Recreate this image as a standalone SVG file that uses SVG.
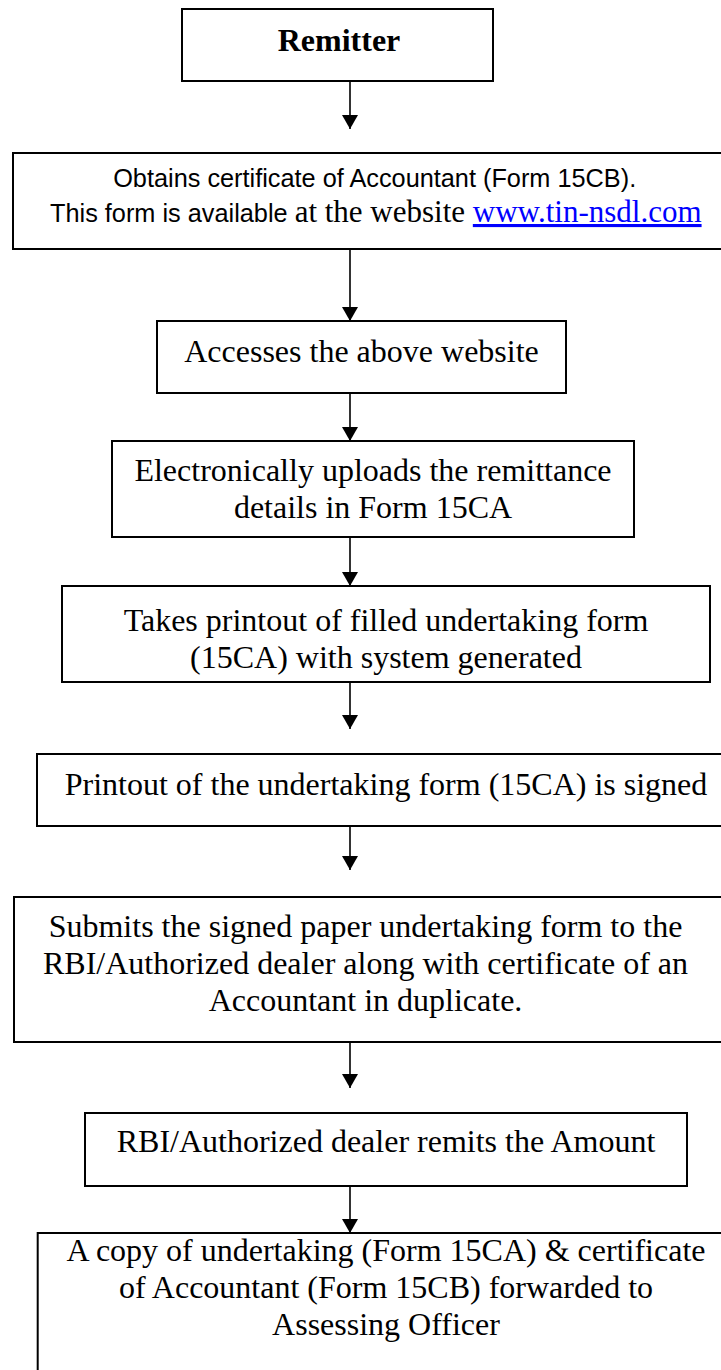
<svg xmlns="http://www.w3.org/2000/svg" width="721" height="1370" viewBox="0 0 721 1370">
<style>
.box{fill:#fff;stroke:#000;stroke-width:2}
.t{font-family:"Liberation Serif","Times New Roman",serif;font-size:32px;fill:#000;text-anchor:middle}
.s{font-family:"Liberation Sans",Arial,sans-serif;font-size:25.3px;fill:#000}
.c{stroke:#000;stroke-width:1.6;fill:none;marker-end:url(#ah)}
</style>
<defs>
<marker id="ah" viewBox="0 0 14 16" markerWidth="14" markerHeight="16" refX="14" refY="8" orient="auto" markerUnits="userSpaceOnUse">
<path d="M0,0 L14,8 L0,16 z" fill="#000"/>
</marker>
</defs>
<rect x="0" y="0" width="721" height="1370" fill="#fff"/>
<g id="connectors">
<line class="c" x1="350" y1="81" x2="350" y2="129"/>
<line class="c" x1="350" y1="249" x2="350" y2="321"/>
<line class="c" x1="350" y1="393" x2="350" y2="441"/>
<line class="c" x1="350" y1="537" x2="350" y2="586"/>
<line class="c" x1="350" y1="682" x2="350" y2="729"/>
<line class="c" x1="350" y1="826" x2="350" y2="870"/>
<line class="c" x1="350" y1="1042" x2="350" y2="1088"/>
<line class="c" x1="350" y1="1186" x2="350" y2="1233"/>
</g>
<g id="remitter">
<rect class="box" x="182" y="9" width="311" height="72"/>
<text class="t" x="339" y="51" font-weight="bold">Remitter</text>
</g>
<g id="obtains">
<rect class="box" x="13" y="153" width="722" height="96"/>
<text class="s" x="374.7" y="187" text-anchor="middle">Obtains certificate of Accountant (Form 15CB).</text>
<text class="s" x="50" y="222">This form is available <tspan font-family="Liberation Serif, Times New Roman, serif" font-size="31">at the website </tspan><tspan font-family="Liberation Serif, Times New Roman, serif" font-size="31" fill="#0000ff" text-decoration="underline">www.tin-nsdl.com</tspan></text>
</g>
<g id="accesses">
<rect class="box" x="157" y="321" width="409" height="72"/>
<text class="t" x="361.5" y="362">Accesses the above website</text>
</g>
<g id="uploads">
<rect class="box" x="112" y="441" width="522" height="96"/>
<text class="t" x="373" y="481">Electronically uploads the remittance</text>
<text class="t" x="373" y="518">details in Form 15CA</text>
</g>
<g id="printout">
<rect class="box" x="62" y="586" width="648" height="96"/>
<text class="t" x="386" y="631">Takes printout of filled undertaking form</text>
<text class="t" x="386" y="668">(15CA) with system generated</text>
</g>
<g id="signed">
<rect class="box" x="37" y="754" width="698" height="72"/>
<text class="t" x="386" y="795">Printout of the undertaking form (15CA) is signed</text>
</g>
<g id="submits">
<rect class="box" x="14" y="897" width="716" height="145"/>
<text class="t" x="365.5" y="937">Submits the signed paper undertaking form to the</text>
<text class="t" x="365.5" y="974">RBI/Authorized dealer along with certificate of an</text>
<text class="t" x="365.5" y="1011">Accountant in duplicate.</text>
</g>
<g id="remits">
<rect class="box" x="85" y="1113" width="602" height="73"/>
<text class="t" x="386" y="1152">RBI/Authorized dealer remits the Amount</text>
</g>
<g id="forwarded">
<rect class="box" x="37.7" y="1233" width="697" height="150"/>
<text class="t" x="386" y="1261">A copy of undertaking (Form 15CA) &amp; certificate</text>
<text class="t" x="386" y="1298">of Accountant (Form 15CB) forwarded to</text>
<text class="t" x="386" y="1335">Assessing Officer</text>
</g>
</svg>
